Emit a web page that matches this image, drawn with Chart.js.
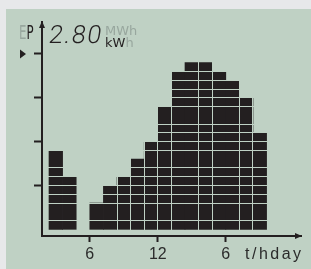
<!DOCTYPE html>
<html>
<head>
<meta charset="utf-8">
<script src="https://cdn.jsdelivr.net/npm/chart.js@4.4.0/dist/chart.umd.min.js"></script>
<style>
  html, body { margin: 0; padding: 0; }
  body { width: 311px; height: 269px; background: #e7e8ea; position: relative; overflow: hidden; }
  #panel { position: absolute; left: 6px; top: 9px; right: 0; bottom: 0; background: #bfd1c4; }
  #chart { position: absolute; left: 0; top: 0; }
  .lbl { position: absolute; white-space: nowrap; line-height: 1; color: #231f20; }
  .dim { color: #98a79e; }
  #ep { left: 19px; top: 20.5px; font: 19px "DejaVu Sans", sans-serif; transform: scaleX(0.62); transform-origin: left top; }
  #reading { left: 47px; top: 19.5px; font: 300 25px Roboto, sans-serif; letter-spacing: 1.5px; transform: skewX(-9deg); transform-origin: left bottom; }
  #mwh { left: 105px; top: 22.5px; font: 13px "DejaVu Sans", sans-serif; }
  #kwh { left: 105px; top: 35px; font: 13px "DejaVu Sans", sans-serif; }
  #unit { left: 245px; top: 245px; font: 16px "Liberation Sans", sans-serif; letter-spacing: 2.5px; color: #2b2b2b; }
</style>
</head>
<body>
<div id="panel"></div>
<canvas id="chart" width="311" height="269"></canvas>
<div class="lbl" id="ep"><span class="dim">E</span>P</div>
<div class="lbl" id="reading">2.80</div>
<div class="lbl dim" id="mwh">MWh</div>
<div class="lbl" id="kwh">kW<span class="dim">h</span></div>
<div class="lbl" id="unit">t/hday</div>
<script>
// one column per time slot, height in display segments
const slots = [0, 1, 2, 3, 4, 5, 6, 7, 8, 9, 10, 11, 12, 13, 14, 15];
const segments = [9, 6, 0, 3, 5, 6, 8, 10, 14, 18, 19, 19, 18, 17, 15, 11];

// x axis tick marks and their labels
const timeTicks = [3, 8, 13];
const timeLabels = ['6', '12', '6'];

// y axis tick marks, pointer sits on the top one
const levelMarks = [5, 10, 15, 20];
const pointerLevel = 20;

// where the LCD segments are split
const rowLines = [1, 3, 4, 5, 6, 7, 9, 10, 11, 12, 14, 15, 16, 17, 18];
const colLines = [5, 6, 7, 8, 9, 11, 12, 14, 15];

const LCD = '#bfd1c4';
const INK = '#231f20';

const lcdMarks = {
    id: 'lcdMarks',
    afterDraw(chart) {
        const { ctx, chartArea: a, scales: { y } } = chart;
        ctx.save();
        ctx.fillStyle = INK;

        // arrow on top of y axis
        ctx.beginPath();
        ctx.moveTo(a.left, a.top - 1);
        ctx.lineTo(a.left - 3, a.top + 6);
        ctx.lineTo(a.left + 3, a.top + 6);
        ctx.closePath();
        ctx.fill();

        // arrow at end of x axis
        ctx.beginPath();
        ctx.moveTo(a.right + 1, a.bottom);
        ctx.lineTo(a.right - 6, a.bottom - 3);
        ctx.lineTo(a.right - 6, a.bottom + 3);
        ctx.closePath();
        ctx.fill();

        // pointer triangle
        const py = y.getPixelForValue(pointerLevel);
        ctx.beginPath();
        ctx.moveTo(a.left - 22, py - 4.5);
        ctx.lineTo(a.left - 16, py);
        ctx.lineTo(a.left - 22, py + 4.5);
        ctx.closePath();
        ctx.fill();
        ctx.restore();
    }
};

const withTicks = list => scale => {
    scale.ticks = [...new Set(list)].sort((p, q) => p - q).map(v => ({ value: v }));
};
const tickIn = (c, list) => !!c.tick && list.includes(c.tick.value);

new Chart(document.getElementById('chart'), {
    type: 'bar',
    data: {
        datasets: [{
            data: slots.map((s, i) => ({ x: s + 0.5, y: segments[i] || null })),
            backgroundColor: INK,
            borderWidth: 0,
            barPercentage: 1,
            categoryPercentage: 1
        }]
    },
    options: {
        responsive: false,
        devicePixelRatio: 1,
        animation: false,
        layout: { padding: { top: 22, right: 10, left: 0, bottom: 0 } },
        plugins: { legend: { display: false }, tooltip: { enabled: false } },
        scales: {
            x: {
                type: 'linear',
                bounds: 'data',
                offset: false,
                min: -0.515,
                max: 18.53,
                afterBuildTicks: withTicks(colLines.concat(timeTicks)),
                afterFit: s => { s.height = 33; },
                ticks: {
                    autoSkip: false,
                    maxRotation: 0,
                    padding: 3,
                    color: '#2b2b2b',
                    font: { family: 'Liberation Sans', size: 16 },
                    callback: v => {
                        const i = timeTicks.indexOf(v);
                        return i >= 0 ? timeLabels[i] : '';
                    }
                },
                grid: {
                    z: 1,
                    offset: false,
                    lineWidth: 1,
                    color: c => tickIn(c, colLines) ? LCD : 'rgba(0,0,0,0)',
                    tickColor: c => tickIn(c, timeTicks) ? INK : 'rgba(0,0,0,0)',
                    tickWidth: 2,
                    tickLength: 6
                },
                border: { display: true, color: INK, width: 2, z: 2 }
            },
            y: {
                type: 'linear',
                bounds: 'data',
                min: -0.76,
                max: 23.64,
                afterBuildTicks: withTicks(rowLines.concat(levelMarks)),
                afterFit: s => { s.width = 42; },
                ticks: { display: false },
                grid: {
                    z: 1,
                    lineWidth: 1,
                    color: c => tickIn(c, rowLines) ? LCD : 'rgba(0,0,0,0)',
                    tickColor: c => tickIn(c, levelMarks) ? INK : 'rgba(0,0,0,0)',
                    tickWidth: 2,
                    tickLength: 8
                },
                border: { display: true, color: INK, width: 2, z: 2 }
            }
        }
    },
    plugins: [lcdMarks]
});
</script>
</body>
</html>
